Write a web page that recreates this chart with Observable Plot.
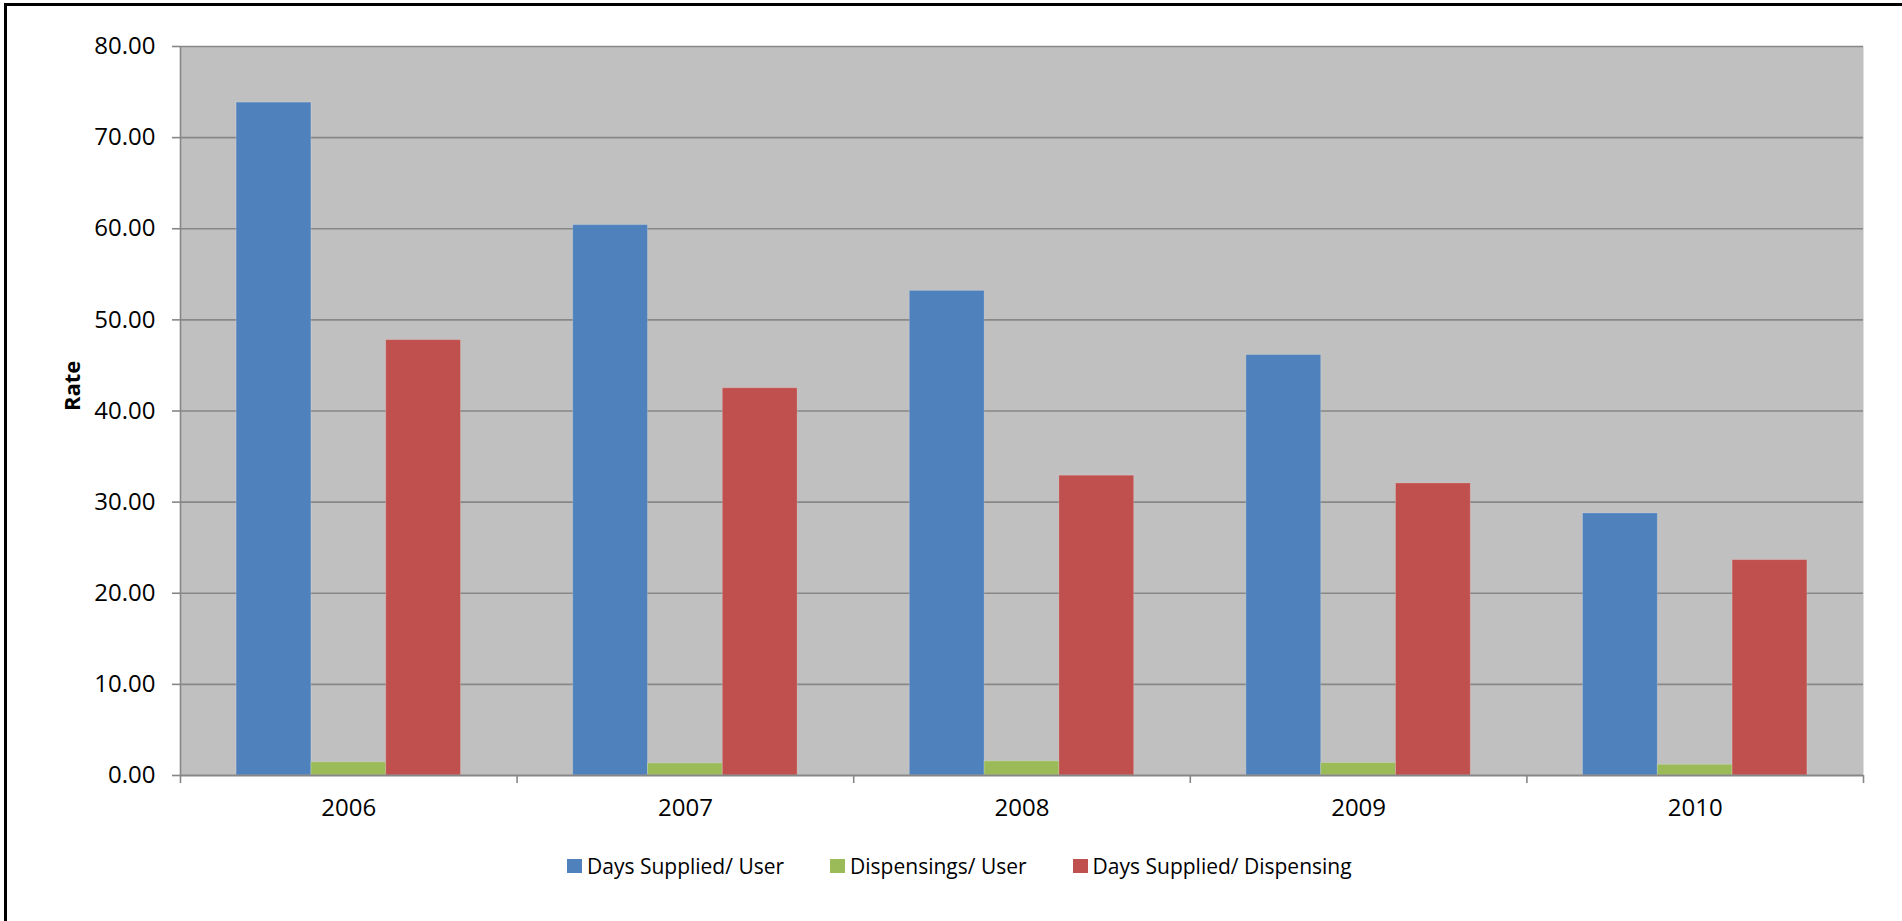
<!DOCTYPE html>
<html>
<head>
<meta charset="utf-8">
<script src="https://cdn.jsdelivr.net/npm/d3@7"></script>
<script src="https://cdn.jsdelivr.net/npm/@observablehq/plot@0.6"></script>
<style>
  html, body { margin: 0; padding: 0; background: #ffffff; overflow: hidden; }
  body { width: 1902px; height: 921px; position: relative; font-family: "Open Sans", sans-serif; color: #000; }
  .edge { position: absolute; background: #000; pointer-events: none; }
  #edge-top { left: 4px; top: 3px; width: 1898px; height: 3px; }
  #edge-left { left: 4px; top: 3px; width: 3px; height: 918px; }
  #chart { position: absolute; left: 0; top: 0; }
  #legend {
    position: absolute; left: 567px; top: 840px; height: 52px;
    display: flex; align-items: center; gap: 46px; font-size: 21px; white-space: nowrap;
  }
  #legend .item { display: flex; align-items: center; gap: 5px; }
  #legend .swatch { width: 15px; height: 14px; display: inline-block; }
</style>
</head>
<body>
<div id="chart"></div>
<div id="legend"></div>
<div class="edge" id="edge-top"></div>
<div class="edge" id="edge-left"></div>
<script>
// Categories and series
const years = ["2006", "2007", "2008", "2009", "2010"];
const seriesNames = ["Days Supplied/ User", "Dispensings/ User", "Days Supplied/ Dispensing"];
const seriesColors = ["#4F81BD", "#9BBB59", "#C0504D"];

// Rates per year
const daysSuppliedPerUser = [73.84, 60.40, 53.18, 46.14, 28.76];
const dispensingsPerUser = [1.45, 1.33, 1.55, 1.37, 1.18];
const daysSuppliedPerDispensing = [47.78, 42.50, 32.90, 32.05, 23.64];

// Value axis ticks
const rateTicks = [0, 10, 20, 30, 40, 50, 60, 70, 80];

const seriesValues = [daysSuppliedPerUser, dispensingsPerUser, daysSuppliedPerDispensing];

// Long table: one row per bar
const rows = [];
years.forEach((year, i) => {
  seriesNames.forEach((name, k) => {
    rows.push({ i, year, k, series: name, value: seriesValues[k][i] });
  });
});

// Clustered layout: each year occupies one unit; bars share 2/3 of it (gap width 150%)
const barWidth = 1 / (seriesNames.length + 1.5);
const groupStart = -seriesNames.length * barWidth / 2;
const categoryCenters = years.map((_, i) => i);
const categoryEdges = d3.range(years.length + 1).map(i => i - 0.5);

const gray = "#878787";

const chart = Plot.plot({
  width: 1902,
  height: 840,
  marginTop: 46,
  marginLeft: 180,
  marginRight: 39,
  marginBottom: 65,
  style: { fontFamily: "Open Sans, sans-serif", fontSize: "24px", color: "#000", background: "transparent" },
  x: { domain: [-0.5, years.length - 0.5], axis: null, label: null },
  y: { domain: [0, 80], axis: null, label: null },
  color: { domain: seriesNames, range: seriesColors },
  marks: [
    Plot.frame({ fill: "#C0C0C0", stroke: null }),
    Plot.gridY(rateTicks.filter(t => t > 0), { stroke: gray, strokeOpacity: 1, strokeWidth: 1.6 }),
    Plot.rectY(rows, {
      x1: d => d.i + groupStart + d.k * barWidth,
      x2: d => d.i + groupStart + (d.k + 1) * barWidth,
      y1: 0,
      y2: "value",
      fill: "series",
      stroke: "#ffffff",
      strokeOpacity: 0.2,
      strokeWidth: 1
    }),
    Plot.ruleX([-0.5], { stroke: gray, strokeWidth: 1.6 }),
    Plot.ruleY([0], { stroke: gray, strokeWidth: 2 }),
    Plot.axisY({
      ticks: rateTicks,
      tickFormat: d3.format(".2f"),
      tickSize: 8,
      tickPadding: 17,
      stroke: gray,
      strokeWidth: 1.6,
      fontSize: 24,
      label: null
    }),
    Plot.axisX({
      ticks: categoryEdges,
      tickSize: 8,
      tickFormat: () => "",
      stroke: gray,
      strokeWidth: 1.6,
      label: null
    }),
    Plot.axisX({
      ticks: categoryCenters,
      tickSize: 0,
      tickPadding: 23,
      tickFormat: i => years[i],
      fontSize: 24,
      label: null
    }),
    Plot.text(["Rate"], {
      frameAnchor: "left",
      rotate: -90,
      dx: -108,
      fontWeight: "bold",
      fontSize: 22,
      fill: "#000"
    })
  ]
});
document.getElementById("chart").append(chart);

// Legend below the plot
const legend = d3.select("#legend");
seriesNames.forEach((name, k) => {
  const item = legend.append("div").attr("class", "item");
  item.append("span").attr("class", "swatch").style("background", seriesColors[k]);
  item.append("span").text(name);
});
</script>
</body>
</html>
